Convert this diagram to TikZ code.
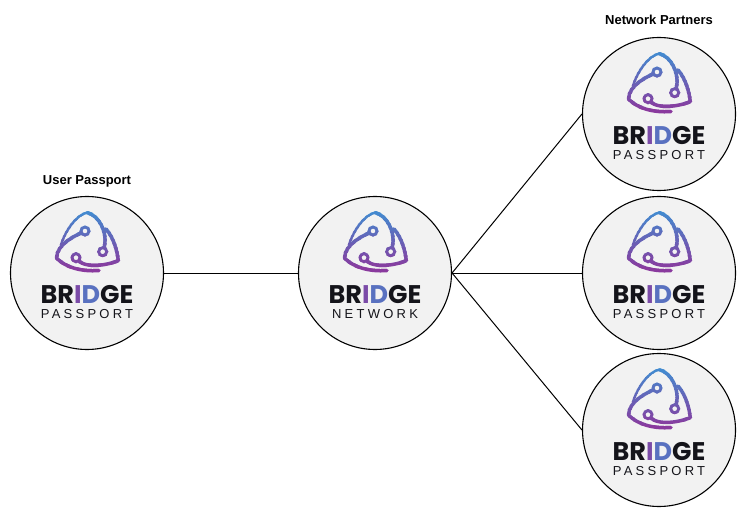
\documentclass[tikz,border=0pt]{standalone}
\usepackage{fontspec}
\setmainfont{Liberation Sans}
\newfontfamily\brandfont{Poppins}
\newfontfamily\wordfont[LetterSpace=25]{Liberation Sans}
\definecolor{logoblue}{HTML}{3F8FD2}
\definecolor{logopurple}{HTML}{8A3A9E}
\definecolor{badgefill}{HTML}{F2F2F2}
\definecolor{inkdark}{HTML}{14141A}
\tikzset{
  badge/.style={circle,draw=black,line width=1.1pt,fill=badgefill,minimum size=153pt,inner sep=0pt},
  brandname/.style={inner sep=0pt,text=inkdark,font=\brandfont\bfseries\fontsize{25.5}{25}\selectfont},
  subword/.style={inner sep=0pt,text=inkdark,font=\wordfont\fontsize{13}{13}\selectfont},
  grouplabel/.style={inner sep=0pt,font=\bfseries\fontsize{13}{14}\selectfont},
  logostroke/.style={line width=3.5pt,line cap=round,line join=round},
  logothin/.style={line width=2.4pt,line cap=round},
  logoring/.style={line width=2.9pt,fill=badgefill},
  bridgelogo/.pic={
    % logo colour runs top to bottom, one clipped band at a time
    \foreach \band in {0,...,15}{
      \pgfmathsetmacro\share{\band*100/15}
      \colorlet{bandcolor}{logopurple!\share!logoblue}
      \begin{scope}
        \clip (-40,{-65+\band*4}) rectangle (40,{-65+(\band+1)*4+0.4});
        \draw[logostroke,bandcolor] (-2,-42) .. controls (-10,-38) and (-30,-30) .. (-30.5,-15)
          .. controls (-22,-6) and (-6,-1) .. (12,-2.5);
        \draw[logothin,bandcolor] (0.3,-60.3) .. controls (-10,-59) and (-22,-42) .. (-26,-28);
        \draw[logostroke,bandcolor] (0.3,-60.3) .. controls (12,-58) and (23,-38) .. (15.7,-21.3);
        \draw[logostroke,bandcolor] (-11,-15.3) .. controls (-5,-4) and (18,-7) .. (31.3,-12.3)
          .. controls (30,-24) and (26,-36) .. (19,-44);
        \draw[logoring,draw=bandcolor] (-2,-42) circle (4);
        \draw[logoring,draw=bandcolor] (15.7,-21.3) circle (4);
        \draw[logoring,draw=bandcolor] (-11,-15.3) circle (4);
      \end{scope}
    }
    \node[brandname] (-name) at (0,21.5) {BR\textcolor{logopurple!80!logoblue}{I}\textcolor{logopurple!35!logoblue}{D}GE};
    \node[subword] (-word) at (0,41) {#1};
  }
}
\begin{document}
\begin{tikzpicture}[x=1pt,y=-1pt]
  \useasboundingbox (0,0) rectangle (743,526);
  % badges
  \node[badge] (user) at (87,273) {};
  \node[badge] (network) at (375,273) {};
  \node[badge] (partnerA) at (659,114) {};
  \node[badge] (partnerB) at (659,273) {};
  \node[badge] (partnerC) at (659,430) {};
  % links
  \draw[line width=1pt] (user.east) -- (network.west);
  \draw[line width=1pt] (network.east) -- (partnerA.west);
  \draw[line width=1pt] (network.east) -- (partnerB.west);
  \draw[line width=1pt] (network.east) -- (partnerC.west);
  % logos
  \pic (userlogo) at (user) {bridgelogo=PASSPORT};
  \pic (networklogo) at (network) {bridgelogo=NETWORK};
  \pic (partnerAlogo) at (partnerA) {bridgelogo=PASSPORT};
  \pic (partnerBlogo) at (partnerB) {bridgelogo=PASSPORT};
  \pic (partnerClogo) at (partnerC) {bridgelogo=PASSPORT};
  % group labels
  \node[grouplabel] (userlabel) at (87,181) {User Passport};
  \node[grouplabel] (partnerlabel) at (659,20) {Network Partners};
\end{tikzpicture}
\end{document}
